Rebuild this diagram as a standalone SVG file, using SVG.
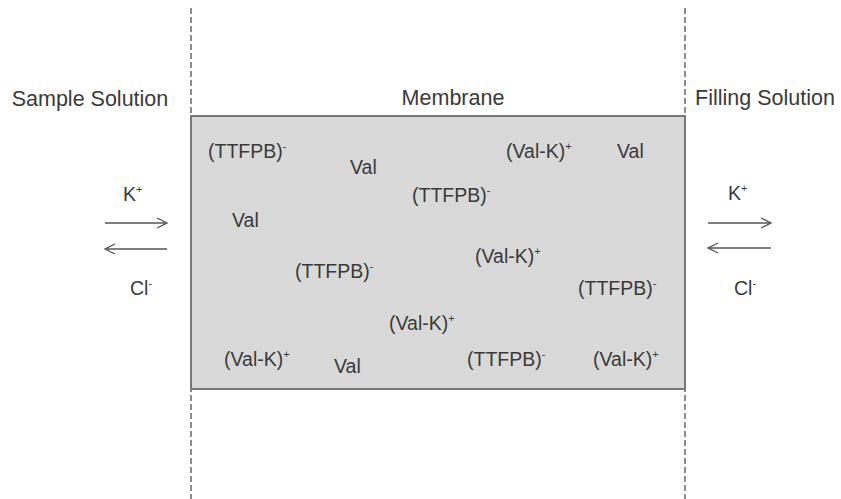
<svg xmlns="http://www.w3.org/2000/svg" width="841" height="499" viewBox="0 0 841 499">
<defs>
<style>
text{font-family:"Liberation Sans",Arial,sans-serif;fill:#3a3a3a}
.h{font-size:21.5px;text-anchor:middle}
.t{font-size:19.5px}
.s{font-size:11px}
.dash{stroke:#8c8c8c;stroke-width:2;stroke-dasharray:6 3;fill:none}
.arr{stroke:#555;stroke-width:1.3;fill:none;marker-end:url(#ah)}
</style>
<marker id="ah" viewBox="0 0 12 12" refX="11" refY="6" markerWidth="12" markerHeight="12" markerUnits="userSpaceOnUse" orient="auto">
<path d="M1,1 L11,6 L1,11" fill="none" stroke="#555" stroke-width="1.3"/>
</marker>
</defs>
<rect width="841" height="499" fill="#fff"/>
<g id="boundaries">
<line class="dash" x1="191" y1="8" x2="191" y2="499"/>
<line class="dash" x1="685" y1="8" x2="685" y2="499"/>
</g>
<g id="membrane">
<rect x="191" y="116" width="494" height="273" fill="#d9d9d9" stroke="#777" stroke-width="2"/>
<text class="h" x="453" y="105">Membrane</text>
<text class="t" x="208" y="158">(TTFPB)<tspan class="s" dy="-8">-</tspan></text>
<text class="t" x="350" y="174">Val</text>
<text class="t" x="412" y="202">(TTFPB)<tspan class="s" dy="-8">-</tspan></text>
<text class="t" x="506" y="158">(Val-K)<tspan class="s" dy="-8">+</tspan></text>
<text class="t" x="617" y="158">Val</text>
<text class="t" x="232" y="227">Val</text>
<text class="t" x="475" y="263">(Val-K)<tspan class="s" dy="-8">+</tspan></text>
<text class="t" x="295" y="278">(TTFPB)<tspan class="s" dy="-8">-</tspan></text>
<text class="t" x="578" y="295">(TTFPB)<tspan class="s" dy="-8">-</tspan></text>
<text class="t" x="389" y="330">(Val-K)<tspan class="s" dy="-8">+</tspan></text>
<text class="t" x="224" y="366">(Val-K)<tspan class="s" dy="-8">+</tspan></text>
<text class="t" x="334" y="373">Val</text>
<text class="t" x="467" y="366">(TTFPB)<tspan class="s" dy="-8">-</tspan></text>
<text class="t" x="593" y="366">(Val-K)<tspan class="s" dy="-8">+</tspan></text>
</g>
<g id="sample-solution">
<text class="h" x="90" y="106">Sample Solution</text>
<text class="t" x="123" y="201">K<tspan class="s" dy="-8">+</tspan></text>
<text class="t" x="130" y="295">Cl<tspan class="s" dy="-8">-</tspan></text>
</g>
<g id="filling-solution">
<text class="h" x="765" y="105">Filling Solution</text>
<text class="t" x="728" y="200">K<tspan class="s" dy="-8">+</tspan></text>
<text class="t" x="734" y="295">Cl<tspan class="s" dy="-8">-</tspan></text>
</g>
<g id="connectors">
<line class="arr" x1="105" y1="223" x2="167" y2="223"/>
<line class="arr" x1="167" y1="249" x2="105" y2="249"/>
<line class="arr" x1="708" y1="223" x2="771" y2="223"/>
<line class="arr" x1="771" y1="248" x2="708" y2="248"/>
</g>
</svg>
